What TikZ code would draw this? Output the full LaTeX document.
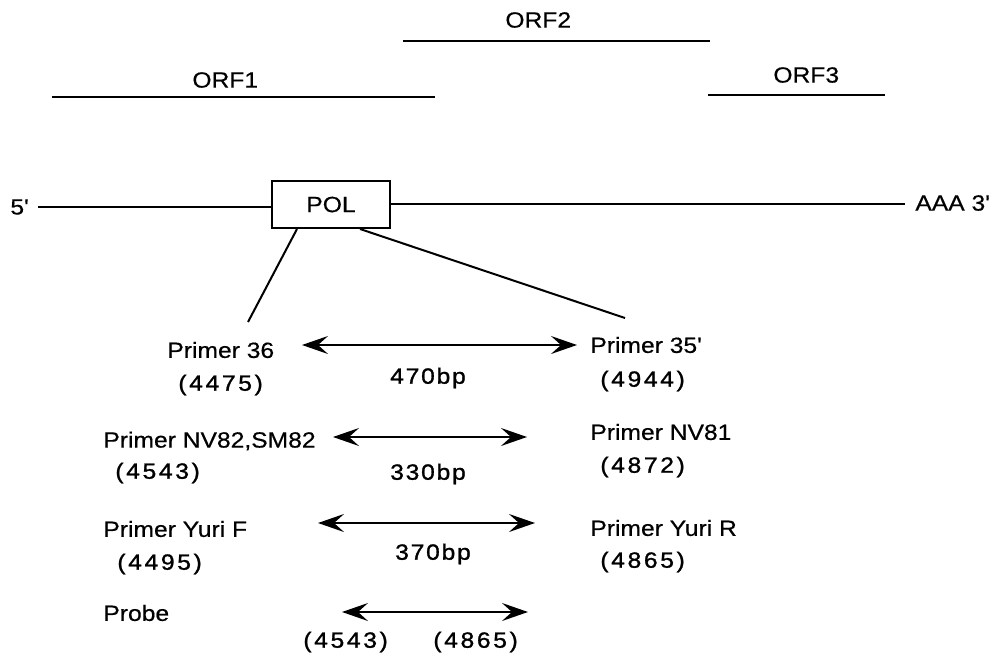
\documentclass[tikz,border=0pt]{standalone}
\usepackage{fontspec}
\setmainfont{Liberation Sans}[FakeStretch=1.12,FakeBold=0.5]
\usetikzlibrary{arrows.meta}

\begin{document}
\begin{tikzpicture}[x=0.5pt,y=-0.5pt,font=\fontsize{11}{13}\selectfont,
  txt/.style={inner sep=0pt,anchor=west},
  num/.style={inner sep=0pt,anchor=west,font=\fontsize{11}{13}\selectfont\addfontfeature{LetterSpace=12,FakeBold=1.2}},
  bp/.style={inner sep=0pt,font=\fontsize{11}{13}\selectfont\addfontfeature{LetterSpace=8,FakeBold=1.2}},
  orf/.style={line width=1pt},
  gene/.style={line width=1pt},
  span/.style={line width=0.9pt,{Stealth[length=13pt,width=9pt,inset=5pt]}-{Stealth[length=13pt,width=9pt,inset=5pt]}}]
  \useasboundingbox (0,0) rectangle (1003,660);
  % reading frames
  \node[txt] (orf1) at (192,80) {ORF1};
  \node[txt] (orf2) at (505,20) {ORF2};
  \node[txt] (orf3) at (773,75) {ORF3};
  \coordinate (o1a) at (52,97);  \coordinate (o1b) at (435,97);
  \coordinate (o2a) at (403,41); \coordinate (o2b) at (710,41);
  \coordinate (o3a) at (708,95); \coordinate (o3b) at (885,95);
  \draw[orf] (o1a) -- (o1b);
  \draw[orf] (o2a) -- (o2b);
  \draw[orf] (o3a) -- (o3b);
  % genome
  \node[txt] (five) at (10,207) {5\textquotesingle};
  \node[txt] (three) at (915,203) {AAA 3\textquotesingle};
  \node[draw,line width=1pt,inner sep=0pt,minimum width=59pt,minimum height=23.5pt] (pol) at (331,204.5) {POL};
  \coordinate (g5) at (38,207);
  \coordinate (g3) at (905,204);
  \draw[gene] (g5) -- (g5 -| pol.west);
  \draw[gene] (pol.east |- g3) -- (g3);
  % zoom lines
  \coordinate (zl) at (248,322);
  \coordinate (zr) at (625,318);
  \draw[gene] ([xshift=-17pt]pol.south) -- (zl);
  \draw[gene] ([xshift=14.5pt]pol.south) -- (zr);
  % primer pairs
  \node[txt] (p36)  at (167,350) {Primer 36};
  \node[num] (n36)  at (178,385) {(4475)};
  \node[txt] (p35)  at (590,345) {Primer 35\textquotesingle};
  \node[num] (n35)  at (600,381) {(4944)};
  \node[bp]  (bp1)  at (428,378) {470bp};
  \coordinate (a1l) at (302,345); \coordinate (a1r) at (577,345);
  \draw[span] (a1l) -- (a1r);

  \node[txt] (p82)  at (103,441) {Primer NV82,SM82};
  \node[num] (n82)  at (115,473) {(4543)};
  \node[txt] (p81)  at (590,432) {Primer NV81};
  \node[num] (n81)  at (600,467) {(4872)};
  \node[bp]  (bp2)  at (428,474) {330bp};
  \coordinate (a2l) at (333,437); \coordinate (a2r) at (527,437);
  \draw[span] (a2l) -- (a2r);

  \node[txt] (pyf)  at (103,529) {Primer Yuri F};
  \node[num] (nyf)  at (117,564) {(4495)};
  \node[txt] (pyr)  at (590,528) {Primer Yuri R};
  \node[num] (nyr)  at (600,562) {(4865)};
  \node[bp]  (bp3)  at (433,554) {370bp};
  \coordinate (a3l) at (318,523); \coordinate (a3r) at (535,523);
  \draw[span] (a3l) -- (a3r);

  % probe
  \node[txt] (probe) at (103,613) {Probe};
  \node[num] (npl)   at (303,642) {(4543)};
  \node[num] (npr)   at (433,642) {(4865)};
  \coordinate (a4l) at (342,612); \coordinate (a4r) at (528,612);
  \draw[span] (a4l) -- (a4r);
\end{tikzpicture}
\end{document}
